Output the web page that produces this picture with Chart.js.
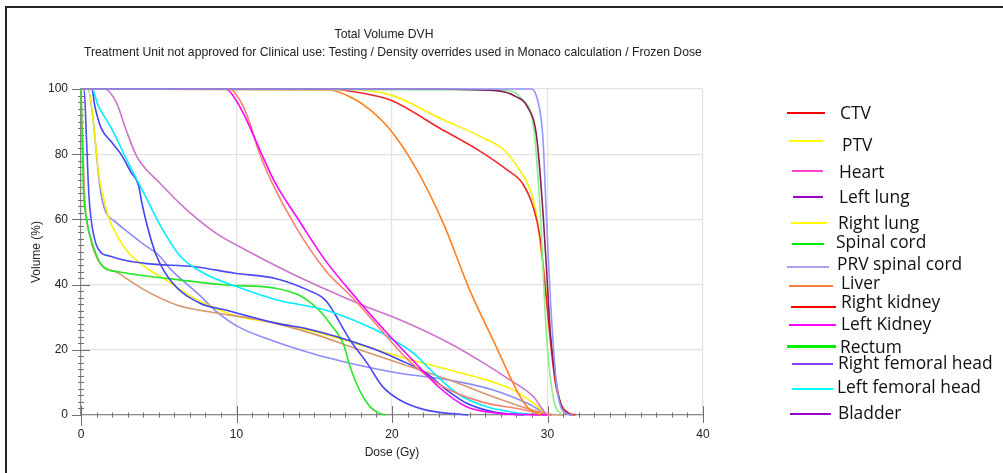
<!DOCTYPE html>
<html>
<head>
<meta charset="utf-8">
<script src="https://cdn.jsdelivr.net/npm/chart.js@4.4.1/dist/chart.umd.min.js"></script>
<style>
  html, body { margin:0; padding:0; background:#fff; }
  #wrap { position:relative; width:1003px; height:473px; overflow:hidden; background:#fff; }
  #frameTop { position:absolute; left:5px; top:6px; width:998px; height:2px; background:#222; }
  #frameLeft { position:absolute; left:5px; top:6px; width:2px; height:467px; background:#222; }
  canvas { position:absolute; left:0; top:0; }
  .ttl { position:absolute; left:84px; width:600px; text-align:center; font-family:"Liberation Sans", Arial, sans-serif; font-size:12.2px; color:#222; white-space:nowrap; line-height:14px; }
  .lg-line { position:absolute; }
  .lg-text { position:absolute; font-family:"Open Sans", "Noto Sans", sans-serif; font-size:17.4px; color:#111; white-space:nowrap; line-height:22px; }
</style>
</head>
<body>
<div id="wrap">
  <canvas id="c" width="1003" height="473"></canvas>
  <div id="frameTop"></div>
  <div id="frameLeft"></div>
  <div class="ttl" id="t1" style="top:27px;"></div>
  <div class="ttl" id="t2" style="top:45px;"></div>
  <div id="legend"></div>
</div>
<script>
// ---------- text ----------
const chartTitle = "Total Volume DVH";
const chartSubtitle = "Treatment Unit not approved for Clinical use: Testing / Density overrides used in Monaco calculation / Frozen Dose";
const xAxisTitle = "Dose (Gy)";
const yAxisTitle = "Volume (%)";

// ---------- axis ticks ----------
const xTickLabels = [0, 10, 20, 30, 40];
const yTickLabels = [0, 20, 40, 60, 80, 100];

// ---------- DVH curves (dose in Gy, volume in %) ----------
const doseLavUpper = [0, 28.9, 29.3, 29.7, 29.94, 30.2, 30.6, 31.2, 31.6];
const volLavUpper  = [100, 100, 97.6, 85.4, 59.8, 34.3, 8.7, 0.5, 0];

const doseMaroon = [0, 21.6, 26.7, 28.0, 28.7, 29.3, 29.7, 29.94, 30.2, 30.6, 31.0, 31.6];
const volMaroon  = [100, 100, 99.5, 97.6, 94.6, 85.4, 62.9, 44.5, 24, 8.7, 1.5, 0];

const doseLtGreen = [0, 27.0, 28.4, 29.1, 29.5, 29.94, 30.4, 30.9];
const volLtGreen  = [100, 99.7, 96.6, 88.4, 65, 24, 4.6, 0];

const doseCTV = [0, 16, 18.1, 19.9, 23.1, 25.7, 27.4, 28.4, 29.1, 29.5, 29.8, 30.1, 30.5, 30.9, 31.4, 31.8];
const volCTV  = [100, 100, 98.7, 96.6, 87.9, 80.8, 75.2, 71, 63.5, 55, 42, 27, 10, 3, 0.5, 0];

const dosePTV = [0, 16, 19.9, 23.1, 25.7, 27.2, 28.2, 28.9, 29.3, 29.6, 29.9, 30.2, 30.5, 30.9, 31.3, 31.7];
const volPTV  = [100, 100, 98.2, 91, 85.4, 81.3, 75.2, 69, 61, 50, 38, 24, 11, 3, 0.5, 0];

const doseOrange = [0, 16, 17.3, 18.6, 19.9, 21.6, 23.3, 25.0, 26.7, 28.0, 28.6, 29.1, 29.6];
const volOrange  = [100, 99.7, 97.6, 93.6, 87.4, 75.2, 58.8, 38.3, 21, 7.7, 3, 0.8, 0];

const doseMagenta = [0, 9.3, 9.7, 10.5, 11.5, 12.5, 14.0, 15.7, 17.8, 19.5, 21.4, 23.1, 24.8, 26.9, 29, 30];
const volMagenta  = [100, 100, 98.5, 92, 81.3, 71.1, 59.8, 47.5, 35.3, 26.1, 16.5, 8.2, 2.5, 0.5, 0.1, 0];

const doseSalmon = [0, 9.6, 9.95, 10.4, 10.9, 11.4, 12.3, 13.8, 15.7, 17.6, 19.3, 20.9, 23.1, 25.7, 28, 29.7, 30.2];
const volSalmon  = [100, 100, 98.5, 95, 89, 81.3, 71.1, 57.8, 44.5, 35.3, 26.1, 17.5, 9.2, 4.1, 2, 0.5, 0];

const doseOrchid = [0, 1.5, 2.3, 2.9, 3.6, 5.1, 6.8, 8.7, 10.2, 13.5, 17.8, 20.8, 23.7, 25.9, 27.6, 29.1, 29.9, 30.3];
const volOrchid  = [100, 100, 95.6, 87.4, 79.2, 71, 62.9, 55.7, 51.6, 43.5, 34.3, 28.6, 22, 15.9, 10.7, 5.6, 0.5, 0];

const doseCyan = [0, 0.7, 1.1, 1.95, 3.0, 4.1, 5.2, 6.4, 7.9, 10, 12.6, 15.7, 18.9, 20.1, 21.4, 22.7, 24.2, 26.1, 28, 29.5];
const volCyan  = [100, 100, 95, 88, 77.7, 67.5, 57.3, 48.6, 43.5, 39.4, 35.3, 32.2, 26.2, 23, 18.9, 12.8, 6.6, 2.5, 0.7, 0];

const doseBlueA = [0, 0.7, 0.88, 1.3, 1.95, 2.6, 3.2, 3.7, 3.9, 4.3, 4.84, 5.9, 7.65, 9.3, 12.6, 14.6, 18.4, 20.5, 22.2, 23.5, 24.8, 26.5, 28.5];
const volBlueA  = [100, 100, 95, 88, 83.8, 79.8, 74.6, 70.5, 65.4, 57.3, 49, 40.4, 34.3, 32.2, 28.1, 26.4, 21, 16.9, 12.8, 7.7, 3.6, 1.0, 0];

const doseBlueB = [0, 0.2, 0.35, 0.5, 0.65, 0.85, 1.1, 1.95, 4.1, 7.3, 9.9, 12.5, 14.6, 15.7, 16.3, 16.8, 17.3, 18.4, 19.4, 20.5, 22.2, 24.9];
const volBlueB  = [100, 100, 85, 68, 60, 54.5, 51, 48.6, 46.5, 45.5, 43.5, 41.9, 38.3, 35.3, 31.2, 27, 23, 15.9, 8.7, 4.6, 1.5, 0];

const doseGreen = [0, 0.05, 0.15, 0.37, 0.8, 1.4, 2.3, 5.5, 9.3, 12.5, 14.0, 14.8, 15.5, 16.1, 16.5, 16.9, 17.3, 17.9, 18.6, 19.2, 19.6];
const volGreen  = [100, 90, 70, 59.8, 51.6, 45.5, 44, 41.9, 39.9, 38.9, 36.8, 34.3, 31.2, 27.5, 25, 21.5, 14.8, 7.7, 2.5, 0.5, 0];

const doseTan = [0, 0.1, 0.26, 0.58, 1.1, 2.4, 4.1, 6.2, 8.8, 11.6, 15.2, 17.3, 20.5, 23.7, 26.5, 28.7, 30, 31];
const volTan  = [100, 85, 65, 54.7, 47.5, 43.5, 38.3, 33.7, 31.2, 29.1, 24.5, 21, 15.9, 10.7, 5.6, 2, 0.3, 0];

const doseYellowLow = [0, 0.45, 0.77, 0.98, 1.2, 1.4, 1.8, 2.3, 3.0, 4.1, 5.8, 7.1, 8.4, 10.1, 12.7, 15.2, 17.3, 20.5, 23.7, 26.1, 27.8, 29.1, 29.9, 30.3];
const volYellowLow  = [100, 100, 91, 81, 72, 67.5, 60.3, 55.2, 50.1, 45.5, 40.4, 36.3, 33.2, 30.2, 28.1, 25.3, 22.5, 17.9, 13.8, 10.7, 7.7, 3.6, 0.5, 0];

const doseLavLow = [0, 0.45, 0.77, 0.98, 1.2, 1.5, 2.2, 3.0, 4.1, 5.0, 5.8, 7.5, 8.6, 10.1, 12.2, 15.2, 17.3, 20.5, 23.7, 26.5, 28.7, 29.9, 30.3];
const volLavLow  = [100, 100, 91, 80.8, 70.5, 63.4, 59.3, 56.2, 52.1, 49, 44.5, 37.3, 32.2, 27.1, 23, 18.4, 15.9, 12.8, 10.7, 7.7, 3.6, 0.5, 0];

// ---------- series (names, colours) ----------
const seriesNames = ["PRV spinal cord", "Bladder", "Rectum", "CTV", "PTV", "Liver", "Left Kidney", "Right kidney",
  "Heart", "Left femoral head", "Left lung", "Right femoral head", "Spinal cord", "Liver (2)", "Right lung", "PRV (2)"];
const seriesDose = [doseLavUpper, doseMaroon, doseLtGreen, doseCTV, dosePTV, doseOrange, doseMagenta, doseSalmon,
  doseOrchid, doseCyan, doseBlueA, doseBlueB, doseGreen, doseTan, doseYellowLow, doseLavLow];
const seriesVol = [volLavUpper, volMaroon, volLtGreen, volCTV, volPTV, volOrange, volMagenta, volSalmon,
  volOrchid, volCyan, volBlueA, volBlueB, volGreen, volTan, volYellowLow, volLavLow];
const seriesColors = ["rgb(150,150,255)", "rgb(135,30,85)", "rgb(140,238,140)", "rgb(240,40,40)", "rgb(250,240,0)",
  "rgb(255,128,30)", "rgb(255,0,255)", "rgb(250,128,114)", "rgb(205,115,205)", "rgb(0,238,255)",
  "rgb(65,65,250)", "rgb(75,75,245)", "rgb(40,230,40)", "rgb(215,150,110)", "rgb(250,240,0)", "rgb(140,140,250)"];

// ---------- legend (as in picture) ----------
const legendLabels = ["CTV", "PTV", "Heart", "Left lung", "Right lung", "Spinal cord", "PRV spinal cord", "Liver",
  "Right kidney", "Left Kidney", "Rectum", "Right femoral head", "Left femoral head", "Bladder"];
const legendColors = ["#ff0000", "#ffff00", "#ff44cc", "#9900cc", "#ffff00", "#00ee00", "#a8a0f0", "#f08040",
  "#ff0000", "#ff00ff", "#00ee00", "#8040ff", "#00ffff", "#9900cc"];
// layout only: [lineX1, lineX2, lineY, lineThickness, textX, textCenterY]
const legendLayout = [
  [787, 825, 113, 2, 840, 113], [789, 823, 141, 2, 842, 145], [792, 823, 171, 2, 839, 172],
  [793, 823, 197, 2.5, 839, 197], [791, 827, 223, 2, 838, 223], [792, 824, 244, 2.5, 836, 242],
  [787, 829, 267, 1.2, 837, 264], [789, 833, 286, 2.5, 841, 283], [791, 836, 307, 2.5, 841, 302],
  [789, 836, 325, 2, 841, 324], [787, 836, 346, 3, 840, 347], [792, 833, 364, 1.2, 838, 363],
  [792, 833, 389, 2.5, 837, 387], [790, 831, 414, 2.5, 838, 413]
];

document.getElementById('t1').textContent = chartTitle;
document.getElementById('t2').textContent = chartSubtitle;

const lg = document.getElementById('legend');
legendLabels.forEach((name, i) => {
  const [x1, x2, ly, th, tx, ty] = legendLayout[i];
  const ln = document.createElement('div');
  ln.className = 'lg-line';
  ln.style.left = x1 + 'px'; ln.style.width = (x2 - x1) + 'px';
  ln.style.top = (ly - th / 2) + 'px'; ln.style.height = th + 'px';
  ln.style.background = legendColors[i];
  lg.appendChild(ln);
  const tt = document.createElement('div');
  tt.className = 'lg-text';
  tt.style.left = tx + 'px'; tt.style.top = (ty - 12) + 'px';
  tt.textContent = name;
  lg.appendChild(tt);
});

const datasets = seriesNames.map((name, i) => ({
  label: name,
  data: seriesDose[i].map((d, k) => ({ x: d, y: seriesVol[i][k] })),
  borderColor: seriesColors[i],
  backgroundColor: seriesColors[i],
  borderWidth: 1.6,
  pointRadius: 0,
  fill: false,
  cubicInterpolationMode: 'monotone',
  clip: false
}));

// tick marks crossing the axes (minor + major), drawn using the chart's own scales
const crossTicks = {
  id: 'crossTicks',
  beforeDatasetsDraw(chart) {
    const ctx = chart.ctx, xs = chart.scales.x, ys = chart.scales.y;
    const axY = ys.getPixelForValue(0), axX = xs.getPixelForValue(0);
    ctx.save();
    ctx.strokeStyle = '#707070';
    ctx.lineWidth = 1;
    ctx.beginPath();
    for (let d = xs.min; d <= xs.max; d += 1) {
      const px = Math.round(xs.getPixelForValue(d)) + 0.5;
      const major = xTickLabels.includes(d);
      const up = major ? 9 : 2.5, dn = major ? 8 : 2.5;
      ctx.moveTo(px, axY - up); ctx.lineTo(px, axY + (d === 0 ? 11 : dn));
    }
    for (let v = ys.min; v <= ys.max; v += 2) {
      const py = Math.round(ys.getPixelForValue(v)) + 0.5;
      const major = yTickLabels.includes(v);
      const l = major ? 9 : 3, r = major ? 9 : 3;
      ctx.moveTo(axX - l, py); ctx.lineTo(axX + (v === 0 ? 0 : r), py);
    }
    ctx.stroke();
    ctx.restore();
  }
};

new Chart(document.getElementById('c'), {
  type: 'line',
  data: { datasets },
  plugins: [crossTicks],
  options: {
    responsive: false,
    animation: false,
    events: [],
    layout: { padding: { top: 89, right: 300, bottom: 0, left: 0 } },
    plugins: { legend: { display: false }, tooltip: { enabled: false }, title: { display: false } },
    scales: {
      x: {
        type: 'linear', min: 0, max: 40,
        afterFit(s) { s.height = 58; },
        afterBuildTicks(s) { s.ticks = xTickLabels.map(v => ({ value: v })); },
        ticks: { color: '#222', font: { family: 'Liberation Sans', size: 12 }, padding: 12, maxRotation: 0 },
        grid: { color: '#e2e2e2', lineWidth: 1.2, drawTicks: false },
        border: { display: true, color: '#8a8a8a', width: 1.2 },
        title: { display: true, text: xAxisTitle, color: '#222', font: { family: 'Liberation Sans', size: 12 }, padding: { top: 4, bottom: 13 } }
      },
      y: {
        type: 'linear', min: 0, max: 100,
        afterFit(s) { s.width = 81; },
        afterBuildTicks(s) { s.ticks = yTickLabels.map(v => ({ value: v })); },
        ticks: { color: '#222', font: { family: 'Liberation Sans', size: 12 }, padding: 13 },
        grid: { color: '#e2e2e2', lineWidth: 1.2, drawTicks: false },
        border: { display: true, color: '#8a8a8a', width: 1.2 },
        title: { display: true, text: yAxisTitle, color: '#222', font: { family: 'Liberation Sans', size: 12 }, padding: { top: 29, bottom: 0 } }
      }
    }
  }
});
</script>
</body>
</html>
